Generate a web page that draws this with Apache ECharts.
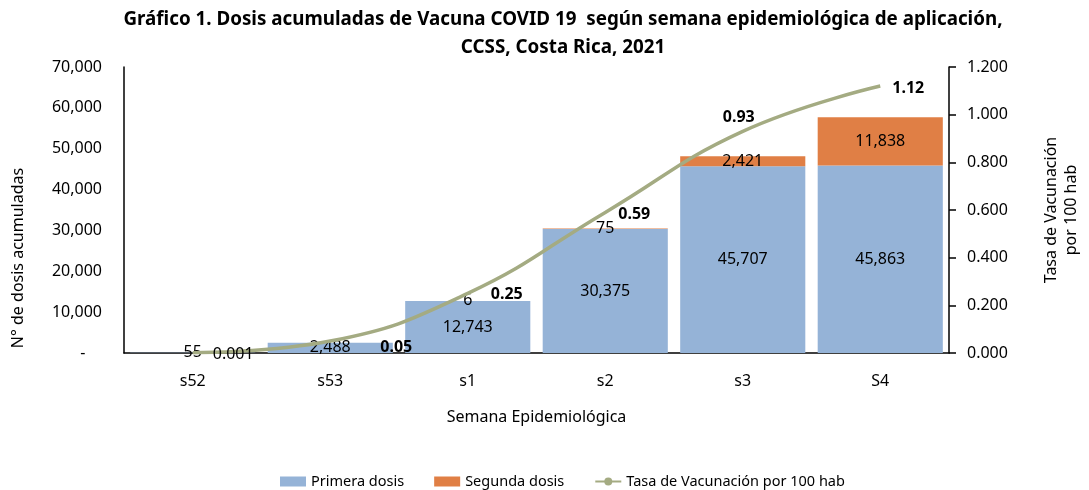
<!DOCTYPE html>
<html>
<head>
<meta charset="utf-8">
<script src="https://cdn.jsdelivr.net/npm/echarts@6/dist/echarts.min.js"></script>
<style>
  html, body { margin: 0; padding: 0; background: #fff; }
  #myChart { width: 1089px; height: 490px; }
</style>
</head>
<body>
<div id="myChart"></div>
<script>
// semanas epidemiologicas
const semanas = ["s52", "s53", "s1", "s2", "s3", "S4"];
// dosis acumuladas
const primeraDosis = [55, 2488, 12743, 30375, 45707, 45863];
const segundaDosis = [0, 0, 6, 75, 2421, 11838];
// tasa por 100 hab
const tasaVacunacion = [0.001, 0.05, 0.25, 0.59, 0.93, 1.12];
// ticks del eje izquierdo y derecho
const ticksDosis = [0, 10000, 20000, 30000, 40000, 50000, 60000, 70000];
const ticksTasa = [0, 0.2, 0.4, 0.6, 0.8, 1.0, 1.2];

// desplazamiento de las etiquetas de la tasa (como quedaron en excel)
const tasaLabelOffset = [[20, 2], [50, 6], [23, 1], [13, 2], [-20, -14], [12, 2]];

const FONT = "Noto Sans";
const fmt = (v) => v.toLocaleString("en-US");

const chart = echarts.init(document.getElementById("myChart"));
const option = {
  backgroundColor: "#fff",
  textStyle: { fontFamily: FONT, color: "#000" },
  title: {
    text: "Gráfico 1. Dosis acumuladas de Vacuna COVID 19  según semana epidemiológica de aplicación,\nCCSS, Costa Rica, 2021",
    left: 558,
    top: 1,
    textAlign: "center",
    textStyle: { fontFamily: FONT, fontSize: 18.8, fontWeight: "bold", color: "#000", lineHeight: 28 },
  },
  legend: {
    left: 275,
    top: 469,
    itemWidth: 26,
    itemHeight: 10,
    itemGap: 30,
    textStyle: { fontFamily: FONT, fontSize: 14.5, color: "#000" },
    data: [
      { name: "Primera dosis", icon: "rect" },
      { name: "Segunda dosis", icon: "rect" },
      { name: "Tasa de Vacunación por 100 hab" },
    ],
  },
  graphic: [
    {
      type: "text",
      x: 18,
      y: 258,
      rotation: Math.PI / 2,
      style: {
        text: "N° de dosis acumuladas",
        fontFamily: FONT,
        fontSize: 16,
        fill: "#000",
        textAlign: "center",
        textVerticalAlign: "middle",
      },
    },
  ],
  grid: { left: 124, right: 134, top: 67, bottom: 137 },
  xAxis: {
    type: "category",
    data: semanas,
    name: "Semana Epidemiológica",
    nameLocation: "middle",
    nameGap: 56,
    nameTextStyle: { fontFamily: FONT, fontSize: 16, color: "#000" },
    axisLine: { lineStyle: { color: "#000", width: 1.5 } },
    axisTick: { show: false },
    axisLabel: { margin: 20, fontFamily: FONT, fontSize: 16, color: "#000" },
  },
  yAxis: [
    {
      type: "value",
      min: ticksDosis[0],
      max: ticksDosis[ticksDosis.length - 1],
      interval: ticksDosis[1] - ticksDosis[0],
      axisLine: { show: true, lineStyle: { color: "#000", width: 1.5 } },
      axisTick: { show: false },
      splitLine: { show: false },
      axisLabel: {
        margin: 22,
        fontFamily: FONT,
        fontSize: 16,
        color: "#000",
        formatter: (v) => (v === 0 ? "-    " : fmt(v)),
      },
    },
    {
      type: "value",
      position: "right",
      min: ticksTasa[0],
      max: ticksTasa[ticksTasa.length - 1],
      interval: 0.2,
      name: "Tasa de Vacunación\npor 100 hab",
      nameLocation: "middle",
      nameGap: 92,
      nameTextStyle: { fontFamily: FONT, fontSize: 16, color: "#000", lineHeight: 20 },
      axisLine: { show: true, lineStyle: { color: "#000", width: 1.5 } },
      axisTick: { show: true, inside: false, length: 7, lineStyle: { color: "#000", width: 1.5 } },
      splitLine: { show: false },
      axisLabel: {
        margin: 18,
        fontFamily: FONT,
        fontSize: 16,
        color: "#000",
        formatter: (v) => v.toFixed(3),
      },
    },
  ],
  series: [
    {
      name: "Primera dosis",
      type: "bar",
      stack: "dosis",
      barCategoryGap: "9%",
      itemStyle: { color: "#95b3d7" },
      label: {
        show: true,
        position: "inside",
        fontFamily: FONT,
        fontSize: 16,
        color: "#000",
        formatter: (p) => fmt(p.value),
      },
      data: primeraDosis,
    },
    {
      name: "Segunda dosis",
      type: "bar",
      stack: "dosis",
      barCategoryGap: "9%",
      itemStyle: { color: "#e07f45" },
      label: {
        show: true,
        position: "inside",
        fontFamily: FONT,
        fontSize: 16,
        color: "#000",
        formatter: (p) => (p.value ? fmt(p.value) : ""),
      },
      data: segundaDosis,
    },
    {
      name: "Tasa de Vacunación por 100 hab",
      type: "line",
      yAxisIndex: 1,
      smooth: 0.45,
      symbol: "circle",
      symbolSize: 0,
      showSymbol: true,
      itemStyle: { color: "#a4ab82" },
      lineStyle: { color: "#a4ab82", width: 3.5 },
      label: {
        show: true,
        position: "right",
        distance: 0,
        fontFamily: FONT,
        fontSize: 16,
        fontWeight: "bold",
        color: "#000",
        formatter: (p) => p.value.toFixed(p.value < 0.01 ? 3 : 2),
      },
      data: tasaVacunacion.map((v, i) => ({
        value: v,
        label: { offset: tasaLabelOffset[i], fontWeight: i === 0 ? "normal" : "bold" },
      })),
    },
  ],
};
chart.setOption(option);
</script>
</body>
</html>
